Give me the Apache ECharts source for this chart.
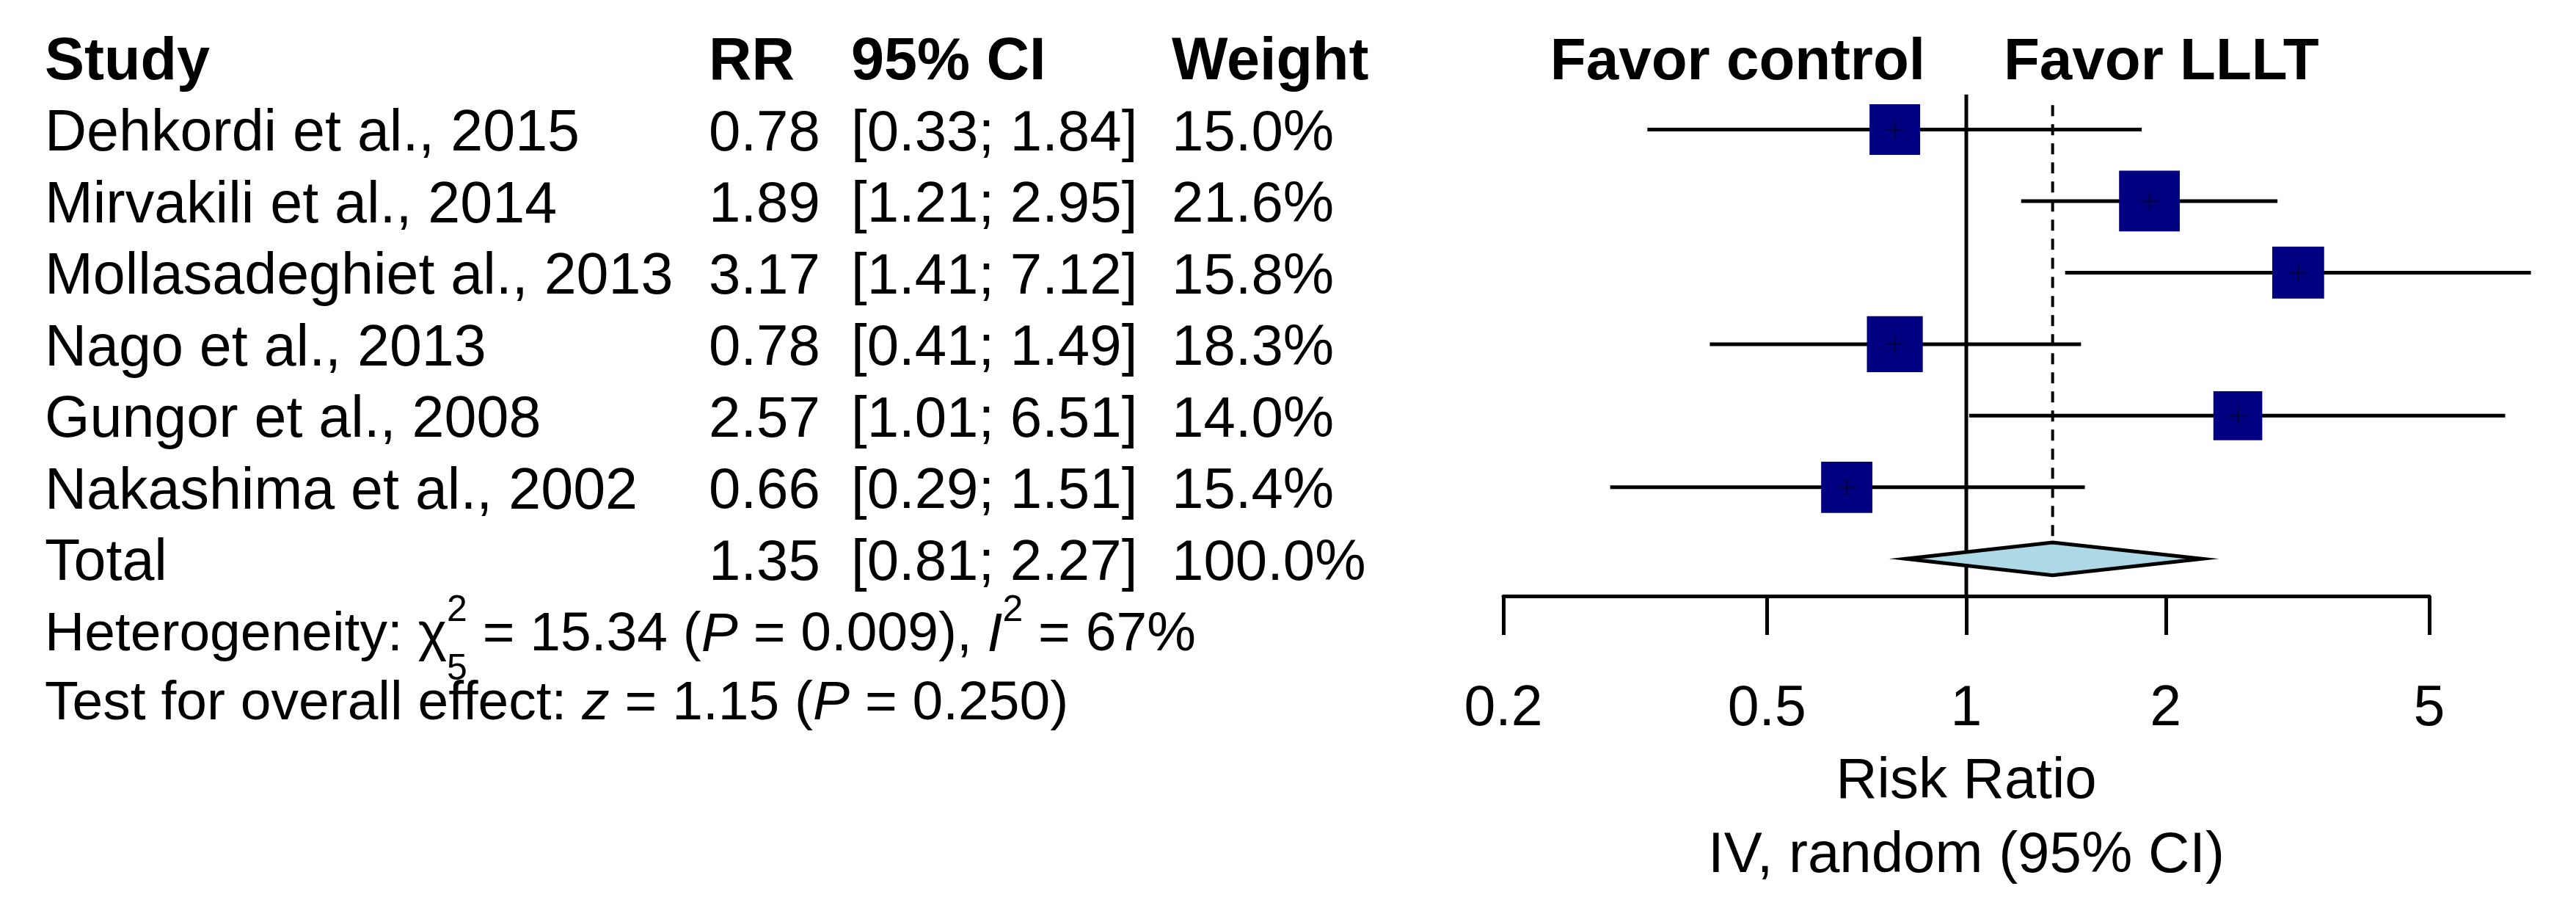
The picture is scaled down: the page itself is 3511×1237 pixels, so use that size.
<!DOCTYPE html>
<html>
<head>
<meta charset="utf-8">
<title>Forest plot - LLLT</title>
<script src="https://cdn.jsdelivr.net/npm/echarts@6.0.0/dist/echarts.min.js"></script>
<style>
    html, body { margin: 0; padding: 0; background: #fff; }
    #main { width: 3511px; height: 1237px; }
</style>
</head>
<body>
<div id="main"></div>
<script type="text/javascript">
    // study data
    var studies = ['Dehkordi et al., 2015', 'Mirvakili et al., 2014', 'Mollasadeghiet al., 2013',
        'Nago et al., 2013', 'Gungor et al., 2008', 'Nakashima et al., 2002'];
    var rr = [0.78, 1.89, 3.17, 0.78, 2.57, 0.66];
    var ciLow = [0.33, 1.21, 1.41, 0.41, 1.01, 0.29];
    var ciHigh = [1.84, 2.95, 7.12, 1.49, 6.51, 1.51];
    var weights = [15.0, 21.6, 15.8, 18.3, 14.0, 15.4];

    // pooled estimate
    var totalRR = 1.35;
    var totalLow = 0.81;
    var totalHigh = 2.27;
    var totalWeight = 100.0;

    // axis
    var tickValues = [0.2, 0.5, 1, 2, 5];
    var axisRange = [0.2, 5];

    var FONT = '"Liberation Sans", Arial, sans-serif';
    var log10 = function (v) { return Math.log(v) / Math.LN10; };
    var totalRow = studies.length + 1;

    var myChart = echarts.init(document.getElementById('main'));

    var option = {
        backgroundColor: '#fff',
        animation: false,
        grid: {
            left: 2049,
            right: 200,
            top: 79,
            bottom: 425,
            containLabel: false,
            outerBoundsMode: 'none'
        },
        xAxis: {
            type: 'value',
            min: log10(axisRange[0]),
            max: log10(axisRange[1]),
            splitLine: { show: false },
            axisLine: { show: true, onZero: false, lineStyle: { color: '#000', width: 5 } },
            axisTick: {
                show: true,
                customValues: tickValues.map(log10),
                length: 53,
                lineStyle: { color: '#000', width: 5 }
            },
            axisLabel: {
                customValues: tickValues.map(log10),
                formatter: function (v) { return String(Math.round(Math.pow(10, v) * 10) / 10); },
                fontSize: 77,
                fontFamily: FONT,
                color: '#000',
                margin: 116
            },
            name: 'Risk Ratio\nIV, random (95% CI)',
            nameLocation: 'middle',
            nameGap: 203,
            nameTextStyle: { fontSize: 78, fontFamily: FONT, color: '#000', lineHeight: 101 }
        },
        yAxis: {
            type: 'value',
            inverse: true,
            min: 0,
            max: 7.52,
            show: false
        },
        series: [
            // line of no effect
            {
                type: 'custom',
                clip: false,
                silent: true,
                z: 1,
                data: [[log10(1)]],
                renderItem: function (params, api) {
                    var a = api.coord([api.value(0), 0.51]);
                    var b = api.coord([api.value(0), 7.52]);
                    return {
                        type: 'line',
                        shape: { x1: a[0], y1: a[1], x2: b[0], y2: b[1] },
                        style: { stroke: '#000', lineWidth: 5 }
                    };
                }
            },
            // pooled estimate, dashed
            {
                type: 'custom',
                clip: false,
                silent: true,
                z: 1,
                data: [[log10(totalRR)]],
                renderItem: function (params, api) {
                    var a = api.coord([api.value(0), 0.66]);
                    var b = api.coord([api.value(0), totalRow - 0.23]);
                    return {
                        type: 'line',
                        shape: { x1: a[0], y1: a[1], x2: b[0], y2: b[1] },
                        style: { stroke: '#000', lineWidth: 4, lineDash: [15, 11] }
                    };
                }
            },
            // confidence intervals
            {
                type: 'custom',
                clip: false,
                silent: true,
                z: 2,
                data: studies.map(function (s, i) { return [log10(ciLow[i]), log10(ciHigh[i]), i + 1]; }),
                encode: { x: [0, 1], y: 2 },
                renderItem: function (params, api) {
                    var a = api.coord([api.value(0), api.value(2)]);
                    var b = api.coord([api.value(1), api.value(2)]);
                    return {
                        type: 'line',
                        shape: { x1: a[0], y1: a[1], x2: b[0], y2: b[1] },
                        style: { stroke: '#000', lineWidth: 5 }
                    };
                }
            },
            // weighted squares
            {
                type: 'custom',
                clip: false,
                silent: true,
                z: 3,
                data: studies.map(function (s, i) { return [log10(rr[i]), i + 1, weights[i]]; }),
                encode: { x: 0, y: 1 },
                renderItem: function (params, api) {
                    var c = api.coord([api.value(0), api.value(1)]);
                    var s = 17.8 * Math.sqrt(api.value(2));
                    return {
                        type: 'group',
                        children: [
                            { type: 'rect', shape: { x: c[0] - s / 2, y: c[1] - s / 2, width: s, height: s }, style: { fill: '#000080' } },
                            { type: 'line', shape: { x1: c[0] - 12, y1: c[1], x2: c[0] + 12, y2: c[1] }, style: { stroke: '#00003a', lineWidth: 2 } },
                            { type: 'line', shape: { x1: c[0], y1: c[1] - 12, x2: c[0], y2: c[1] + 12 }, style: { stroke: '#00003a', lineWidth: 2 } }
                        ]
                    };
                }
            },
            // pooled diamond
            {
                type: 'custom',
                clip: false,
                silent: true,
                z: 4,
                data: [[log10(totalLow), log10(totalRR), log10(totalHigh), totalRow]],
                encode: { x: [0, 1, 2], y: 3 },
                renderItem: function (params, api) {
                    var row = api.value(3);
                    var l = api.coord([api.value(0), row]);
                    var m = api.coord([api.value(1), row]);
                    var r = api.coord([api.value(2), row]);
                    var h = api.size([0, 0.23])[1];
                    return {
                        type: 'polygon',
                        shape: { points: [l, [m[0], m[1] - h], r, [m[0], m[1] + h]] },
                        style: { fill: '#ADD8E6', stroke: '#000', lineWidth: 5 }
                    };
                }
            }
        ]
    };
    myChart.setOption(option);

    // ---- table text, placed on the same rows as the plot ----
    var ypix = function (row) { return myChart.convertToPixel({ gridIndex: 0 }, [0, row])[1]; };
    var xpix = function (v) { return myChart.convertToPixel({ gridIndex: 0 }, [log10(v), 0])[0]; };
    var measureCtx = document.createElement('canvas').getContext('2d');

    function fontStr(o) {
        return (o.italic ? 'italic ' : '') + (o.bold ? 'bold ' : '') + o.size + 'px ' + FONT;
    }

    function txt(x, y, s, o) {
        o = o || {};
        var align = o.align || 'left';
        return {
            type: 'text',
            x: x,
            y: y,
            silent: true,
            style: {
                text: s,
                fill: '#000',
                fontFamily: FONT,
                fontSize: o.size || 78,
                fontWeight: o.bold ? 'bold' : 'normal',
                fontStyle: o.italic ? 'italic' : 'normal',
                align: align,
                textAlign: align,
                verticalAlign: 'middle',
                textVerticalAlign: 'middle'
            }
        };
    }

    // text with italics, super- and subscripts laid out piece by piece
    function mathLine(x, y, parts, size, small) {
        var out = [];
        parts.forEach(function (p) {
            if (p.sup || p.sub) {
                measureCtx.font = fontStr({ size: small });
                var w = 0;
                if (p.sup) {
                    out.push(txt(x, y - 34, p.sup, { size: small }));
                    w = Math.max(w, measureCtx.measureText(p.sup).width);
                }
                if (p.sub) {
                    out.push(txt(x, y + 46, p.sub, { size: small }));
                    w = Math.max(w, measureCtx.measureText(p.sub).width);
                }
                x += w;
            } else {
                var o = { size: size, italic: p.it };
                measureCtx.font = fontStr(o);
                out.push(txt(x, y, p.t, o));
                x += measureCtx.measureText(p.t).width;
            }
        });
        return out;
    }

    var colStudy = 61, colRR = 966, colCI = 1160, colWeight = 1597;
    var dy = 7;
    var els = [];

    // header row
    var hy = ypix(0) + dy;
    els.push(txt(colStudy, hy, 'Study', { bold: true, size: 81 }));
    els.push(txt(colRR, hy, 'RR', { bold: true, size: 81 }));
    els.push(txt(colCI, hy, '95% CI', { bold: true, size: 81 }));
    els.push(txt(colWeight, hy, 'Weight', { bold: true, size: 81 }));
    els.push(txt(xpix(1) - 56, hy, 'Favor control', { bold: true, size: 80, align: 'right' }));
    els.push(txt(xpix(1) + 51, hy, 'Favor LLLT', { bold: true, size: 80 }));

    // study rows
    studies.forEach(function (s, i) {
        var y = ypix(i + 1) + dy;
        els.push(txt(colStudy, y, s, { size: 79 }));
        els.push(txt(colRR, y, rr[i].toFixed(2)));
        els.push(txt(colCI, y, '[' + ciLow[i].toFixed(2) + '; ' + ciHigh[i].toFixed(2) + ']'));
        els.push(txt(colWeight, y, weights[i].toFixed(1) + '%'));
    });

    // total row
    var ty = ypix(totalRow) + dy;
    els.push(txt(colStudy, ty, 'Total', { size: 79 }));
    els.push(txt(colRR, ty, totalRR.toFixed(2)));
    els.push(txt(colCI, ty, '[' + totalLow.toFixed(2) + '; ' + totalHigh.toFixed(2) + ']'));
    els.push(txt(colWeight, ty, totalWeight.toFixed(1) + '%'));

    // heterogeneity and overall effect
    els = els.concat(mathLine(colStudy, ypix(totalRow + 1) + dy, [
        { t: 'Heterogeneity: χ' }, { sup: '2', sub: '5' }, { t: ' = 15.34 (' }, { t: 'P', it: true },
        { t: ' = 0.009), ' }, { t: 'I', it: true }, { sup: '2' }, { t: ' = 67%' }
    ], 75, 50));
    els = els.concat(mathLine(colStudy, ypix(totalRow + 1.96) + dy, [
        { t: 'Test for overall effect: ' }, { t: 'z', it: true }, { t: ' = 1.15 (' }, { t: 'P', it: true },
        { t: ' = 0.250)' }
    ], 75, 50));

    myChart.setOption({ graphic: els });
</script>
</body>
</html>
